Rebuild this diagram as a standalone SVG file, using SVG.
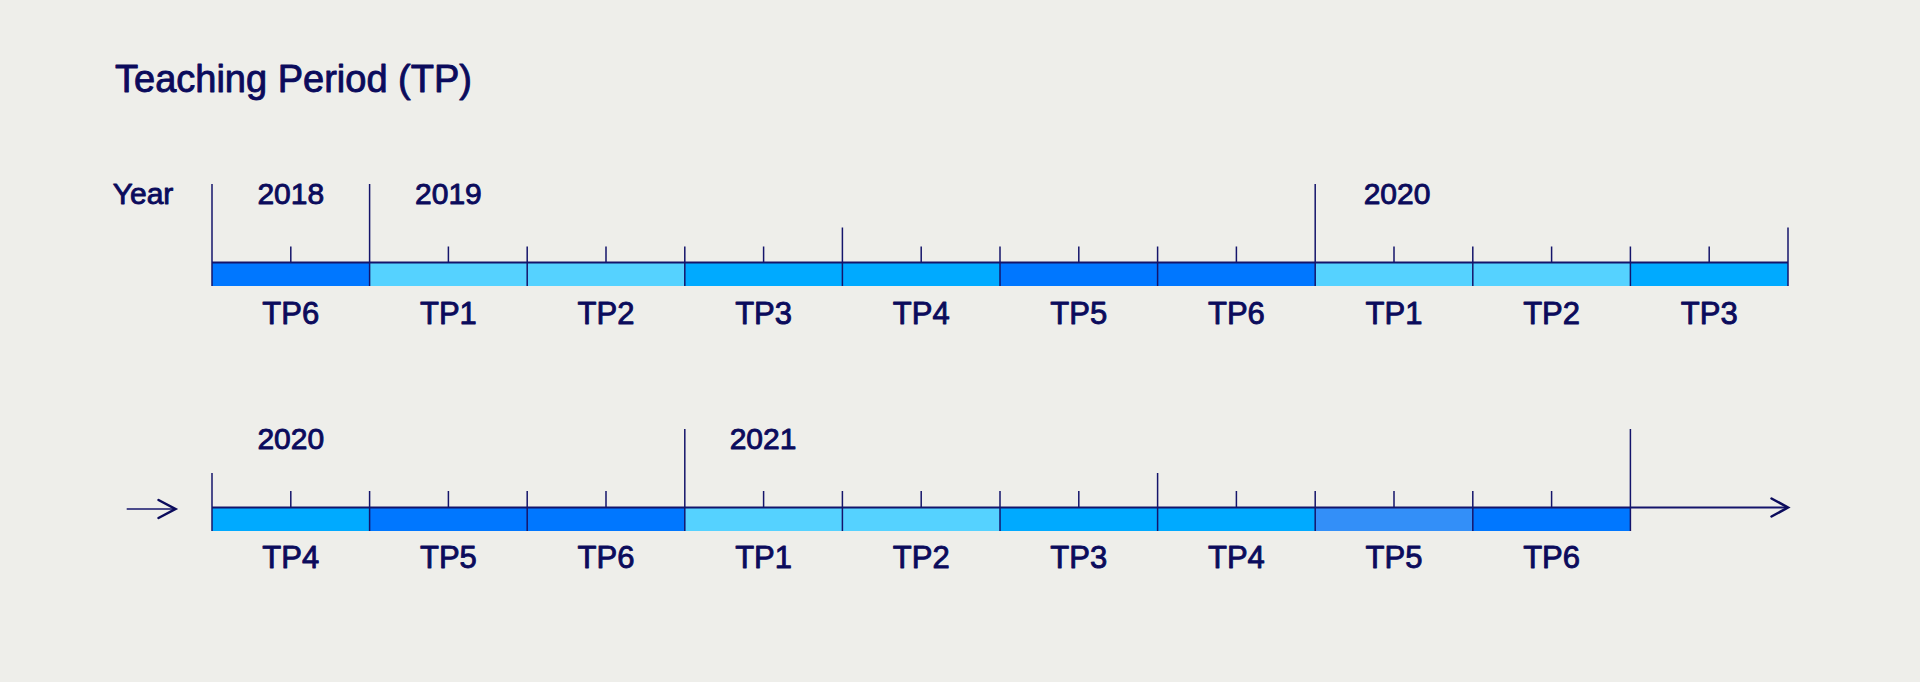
<svg xmlns="http://www.w3.org/2000/svg" width="1920" height="682" viewBox="0 0 1920 682">
<defs>
<style>
.bg{fill:#EEEEEA}
.t{font-family:"Liberation Sans",Arial,Helvetica,sans-serif;fill:#0B0B5C;stroke:#0B0B5C;stroke-width:0.9;stroke-linejoin:round}
.title{font-size:38px}
.yr{font-size:30px;text-anchor:middle}
.lbl{font-size:30px}
.tp{font-size:31px;text-anchor:middle}
.c56{fill:#0077FF}
.c12{fill:#55D2FF}
.c34{fill:#00AAFF}
.c5b{fill:#338FF8}
.ln{stroke:#14146B;stroke-width:1.5;fill:none}
.ax{stroke:#14146B;stroke-width:2;fill:none}
.ah{stroke:#0B0B5C;stroke-width:2.5;fill:none;stroke-linecap:round;stroke-linejoin:miter}
</style>
</defs>
<rect class="bg" x="0" y="0" width="1920" height="682"/>

<g id="title"><text class="t title" x="115" y="91.7">Teaching Period (TP)</text></g>
<g id="year-label"><text class="t lbl" x="112.7" y="203.5">Year</text></g>

<!-- Row 1 segments -->
<g id="r1-tp6"><rect class="c56" x="212" y="262" width="157.6" height="24"/><text class="t tp" x="290.8" y="323.5">TP6</text></g>
<g id="r1-tp1"><rect class="c12" x="369.6" y="262" width="157.6" height="24"/><text class="t tp" x="448.4" y="323.5">TP1</text></g>
<g id="r1-tp2"><rect class="c12" x="527.2" y="262" width="157.6" height="24"/><text class="t tp" x="606" y="323.5">TP2</text></g>
<g id="r1-tp3"><rect class="c34" x="684.8" y="262" width="157.6" height="24"/><text class="t tp" x="763.6" y="323.5">TP3</text></g>
<g id="r1-tp4"><rect class="c34" x="842.4" y="262" width="157.6" height="24"/><text class="t tp" x="921.2" y="323.5">TP4</text></g>
<g id="r1-tp5"><rect class="c56" x="1000" y="262" width="157.6" height="24"/><text class="t tp" x="1078.8" y="323.5">TP5</text></g>
<g id="r1-tp6b"><rect class="c56" x="1157.6" y="262" width="157.6" height="24"/><text class="t tp" x="1236.4" y="323.5">TP6</text></g>
<g id="r1-tp1b"><rect class="c12" x="1315.2" y="262" width="157.6" height="24"/><text class="t tp" x="1394" y="323.5">TP1</text></g>
<g id="r1-tp2b"><rect class="c12" x="1472.8" y="262" width="157.6" height="24"/><text class="t tp" x="1551.6" y="323.5">TP2</text></g>
<g id="r1-tp3b"><rect class="c34" x="1630.4" y="262" width="157.6" height="24"/><text class="t tp" x="1709.2" y="323.5">TP3</text></g>

<g id="r1-years">
<text class="t yr" x="290.8" y="203.5">2018</text>
<text class="t yr" x="448.4" y="203.5">2019</text>
<text class="t yr" x="1397" y="203.5">2020</text>
</g>

<!-- Row 2 segments -->
<g id="r2-tp4"><rect class="c34" x="212" y="507" width="157.6" height="24"/><text class="t tp" x="290.8" y="568">TP4</text></g>
<g id="r2-tp5"><rect class="c56" x="369.6" y="507" width="157.6" height="24"/><text class="t tp" x="448.4" y="568">TP5</text></g>
<g id="r2-tp6"><rect class="c56" x="527.2" y="507" width="157.6" height="24"/><text class="t tp" x="606" y="568">TP6</text></g>
<g id="r2-tp1"><rect class="c12" x="684.8" y="507" width="157.6" height="24"/><text class="t tp" x="763.6" y="568">TP1</text></g>
<g id="r2-tp2"><rect class="c12" x="842.4" y="507" width="157.6" height="24"/><text class="t tp" x="921.2" y="568">TP2</text></g>
<g id="r2-tp3"><rect class="c34" x="1000" y="507" width="157.6" height="24"/><text class="t tp" x="1078.8" y="568">TP3</text></g>
<g id="r2-tp4b"><rect class="c34" x="1157.6" y="507" width="157.6" height="24"/><text class="t tp" x="1236.4" y="568">TP4</text></g>
<g id="r2-tp5b"><rect class="c5b" x="1315.2" y="507" width="157.6" height="24"/><text class="t tp" x="1394" y="568">TP5</text></g>
<g id="r2-tp6b"><rect class="c56" x="1472.8" y="507" width="157.6" height="24"/><text class="t tp" x="1551.6" y="568">TP6</text></g>

<g id="r2-years">
<text class="t yr" x="290.8" y="448.5">2020</text>
<text class="t yr" x="763" y="448.5">2021</text>
</g>

<g id="connectors">
<!-- Row 1 axis -->
<line class="ax" x1="212" y1="262.5" x2="1788" y2="262.5"/>
<!-- Row 1 year / medium lines -->
<line class="ln" x1="212" y1="184" x2="212" y2="286"/>
<line class="ln" x1="369.6" y1="184" x2="369.6" y2="286"/>
<line class="ln" x1="1315.2" y1="184" x2="1315.2" y2="286"/>
<line class="ln" x1="842.4" y1="227.5" x2="842.4" y2="286"/>
<line class="ln" x1="1788" y1="227.5" x2="1788" y2="286"/>
<!-- Row 1 boundary ticks -->
<path class="ln" d="M527.2 246.5V286M684.8 246.5V286M1000 246.5V286M1157.6 246.5V286M1472.8 246.5V286M1630.4 246.5V286"/>
<!-- Row 1 midpoint ticks -->
<path class="ln" d="M290.8 246.5V262M448.4 246.5V262M606 246.5V262M763.6 246.5V262M921.2 246.5V262M1078.8 246.5V262M1236.4 246.5V262M1394 246.5V262M1551.6 246.5V262M1709.2 246.5V262"/>

<!-- Row 2 axis and arrows -->
<line class="ax" x1="212" y1="507.5" x2="1788" y2="507.5"/>
<polyline class="ah" points="1771.5,498.5 1788,507.5 1771.5,516.5"/>
<line class="ln" x1="126.7" y1="509" x2="175" y2="509"/>
<polyline class="ah" points="158.5,500 175.5,509 158.5,518"/>
<!-- Row 2 year / medium lines -->
<line class="ln" x1="212" y1="473" x2="212" y2="531"/>
<line class="ln" x1="684.8" y1="429" x2="684.8" y2="531"/>
<line class="ln" x1="1157.6" y1="473" x2="1157.6" y2="531"/>
<line class="ln" x1="1630.4" y1="429" x2="1630.4" y2="531"/>
<!-- Row 2 boundary ticks -->
<path class="ln" d="M369.6 491V531M527.2 491V531M842.4 491V531M1000 491V531M1315.2 491V531M1472.8 491V531"/>
<!-- Row 2 midpoint ticks -->
<path class="ln" d="M290.8 491V507M448.4 491V507M606 491V507M763.6 491V507M921.2 491V507M1078.8 491V507M1236.4 491V507M1394 491V507M1551.6 491V507"/>
</g>
</svg>
